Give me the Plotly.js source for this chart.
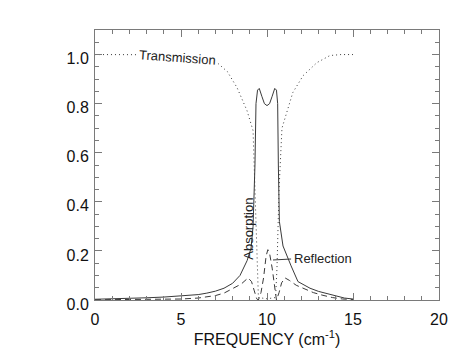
<!DOCTYPE html>
<html>
<head>
<meta charset="utf-8">
<script src="https://cdn.plot.ly/plotly-3.0.1.min.js"></script>
<style>html,body{margin:0;padding:0;background:#fff;}#chart{width:468px;height:360px;}</style>
</head>
<body>
<div id="chart"></div>
<script>
// Transmission (dotted)
const transFreq = [0,1,2,3,4,5,6,7.1,7.7,8.26,8.84,9.19,9.3,9.42,9.5,10.0,10.5,10.58,10.7,10.87,11.5,12.1,12.9,13.66,14.3,15];
const transVal  = [1.0,1.0,1.0,1.0,0.999,0.995,0.985,0.967,0.93,0.865,0.771,0.69,0.45,0.13,0.01,0.005,0.01,0.13,0.45,0.70,0.845,0.914,0.967,0.996,1.0,1.0];

// Absorption (solid)
const absFreq = [0,1,2,3,4,5,6,6.5,7,7.5,8,8.43,8.84,9.07,9.19,9.3,9.36,9.45,9.55,9.7,9.85,10.0,10.15,10.3,10.45,10.55,10.62,10.66,10.72,10.93,11.2,11.4,11.8,12.2,12.5,13,13.5,14,14.5,15];
const absVal  = [0.003,0.004,0.006,0.009,0.012,0.016,0.022,0.028,0.036,0.048,0.068,0.10,0.16,0.21,0.30,0.55,0.80,0.855,0.862,0.83,0.80,0.792,0.80,0.83,0.862,0.855,0.80,0.55,0.32,0.22,0.17,0.139,0.075,0.058,0.048,0.035,0.025,0.016,0.008,0.004];

// Reflection (dashed)
const refFreq = [0,2,4,5,6,7,7.5,8,8.5,8.9,9.1,9.25,9.4,9.5,9.65,9.8,9.95,10.05,10.15,10.3,10.45,10.55,10.7,10.85,11.05,11.3,11.7,12.2,12.7,13.2,13.8,14.4,15];
const refVal  = [0.001,0.002,0.003,0.004,0.008,0.018,0.028,0.045,0.065,0.09,0.075,0.04,0.005,0.0,0.03,0.09,0.18,0.205,0.19,0.13,0.04,0.0,0.03,0.07,0.09,0.08,0.06,0.045,0.03,0.02,0.01,0.004,0.002];

const xTickVals = [0,5,10,15,20];
const yTickVals = [0.0,0.2,0.4,0.6,0.8,1.0];

const lineCol = '#3a3a3a';
const axCol = '#7a7a7a';
const fontFam = 'Liberation Sans, Arial, Helvetica, sans-serif';

const traces = [
  {x: transFreq, y: transVal, mode: 'lines', line: {color: lineCol, width: 1, dash: '1px,3px'}, name: 'Transmission'},
  {x: absFreq, y: absVal, mode: 'lines', line: {color: lineCol, width: 1}, name: 'Absorption'},
  {x: refFreq, y: refVal, mode: 'lines', line: {color: lineCol, width: 1, dash: '6px,4px'}, name: 'Reflection'}
];

const axisCommon = {
  showgrid: false, zeroline: false, showline: true, linecolor: axCol, linewidth: 1,
  mirror: 'ticks', ticks: 'inside', ticklen: 7, tickcolor: axCol, tickwidth: 1,
  tickfont: {size: 16, color: '#111', family: fontFam}
};

const layout = {
  width: 468, height: 360,
  margin: {l: 95, r: 29, t: 30, b: 60, pad: 0},
  paper_bgcolor: '#fff', plot_bgcolor: '#fff',
  showlegend: false,
  font: {family: fontFam, color: '#111'},
  xaxis: Object.assign({}, axisCommon, {
    range: [0, 20], tickvals: xTickVals, ticklabelstandoff: 5,
    minor: {dtick: 1, ticks: 'inside', ticklen: 4, tickcolor: axCol},
    title: {text: 'FREQUENCY (cm<sup>-1</sup>)', font: {size: 16, color: '#111'}, standoff: 1}
  }),
  yaxis: Object.assign({}, axisCommon, {
    range: [0, 1.1], tickvals: yTickVals, tickformat: '.1f', ticklabelshift: 4, ticklabelstandoff: 2,
    minor: {dtick: 0.05, ticks: 'inside', ticklen: 4, tickcolor: axCol}
  }),
  shapes: [
    {type: 'line', xref: 'x', yref: 'y', x0: 10.35, y0: 0.163, x1: 11.4, y1: 0.167, line: {color: lineCol, width: 1}}
  ],
  annotations: [
    {x: 4.8, y: 0.99, xref: 'x', yref: 'y', text: 'Transmission', showarrow: false, textangle: 4,
     font: {size: 13, color: '#222'}, bgcolor: '#fff', borderpad: 0},
    {x: 8.95, y: 0.29, xref: 'x', yref: 'y', text: 'Absorption', showarrow: false, textangle: -90,
     font: {size: 13, color: '#222'}},
    {x: 11.45, y: 0.168, xref: 'x', yref: 'y', text: 'Reflection', showarrow: false, xanchor: 'left',
     font: {size: 13, color: '#222'}}
  ]
};

Plotly.newPlot('chart', traces, layout, {staticPlot: true, displayModeBar: false});
</script>
</body>
</html>
